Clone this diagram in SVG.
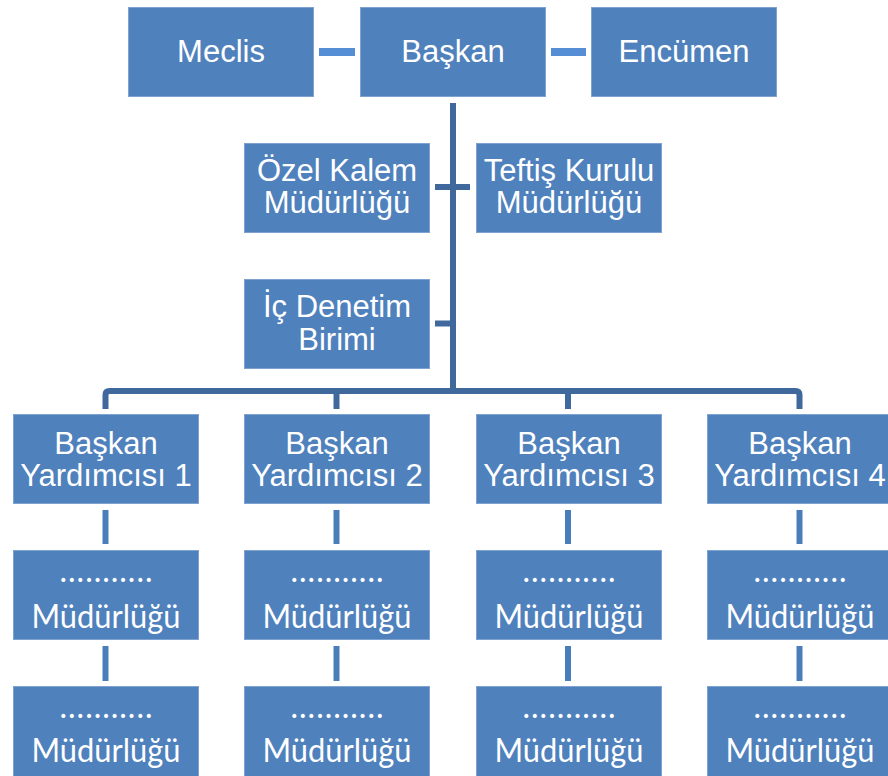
<svg xmlns="http://www.w3.org/2000/svg" width="888" height="776" viewBox="0 0 888 776">
<style>
.box{fill:#4F81BD;stroke:#7EA3D0;stroke-width:1}
.t{font-family:"Liberation Sans",Arial,sans-serif;font-size:31px;fill:#FFFFFF;text-anchor:middle}
.tb{font-family:"Liberation Sans",Arial,sans-serif;font-size:31px;fill:#FFFFFF;text-anchor:middle}
.c{font-family:Lato,"Open Sans",sans-serif;font-size:32px;fill:#FFFFFF;text-anchor:middle}
.peer{stroke:#558ED5;stroke-width:8;fill:none}
.trunk{stroke:#3F699D;stroke-width:6;fill:none}
.sub{stroke:#4A7EBB;stroke-width:6;fill:none}
</style>
<rect width="888" height="776" fill="#FFFFFF"/>
<g id="connectors">
<line class="peer" x1="319" y1="52" x2="355" y2="52"/>
<line class="peer" x1="551" y1="52" x2="586" y2="52"/>
<line class="trunk" x1="453" y1="103" x2="453" y2="391"/>
<line class="trunk" x1="435" y1="187" x2="470" y2="187"/>
<line class="trunk" x1="435" y1="323.5" x2="453" y2="323.5"/>
<path class="trunk" d="M105.5 409 V395 Q105.5 391 109.5 391 H795.5 Q799.5 391 799.5 395 V409"/>
<line class="trunk" x1="336.5" y1="391" x2="336.5" y2="409"/>
<line class="trunk" x1="568" y1="391" x2="568" y2="409"/>
<line class="sub" x1="105.5" y1="510" x2="105.5" y2="544"/>
<line class="sub" x1="105.5" y1="646" x2="105.5" y2="681"/>
<line class="sub" x1="336.5" y1="510" x2="336.5" y2="544"/>
<line class="sub" x1="336.5" y1="646" x2="336.5" y2="681"/>
<line class="sub" x1="568" y1="510" x2="568" y2="544"/>
<line class="sub" x1="568" y1="646" x2="568" y2="681"/>
<line class="sub" x1="799.5" y1="510" x2="799.5" y2="544"/>
<line class="sub" x1="799.5" y1="646" x2="799.5" y2="681"/>
</g>
<g id="meclis"><rect class="box" x="128.5" y="7.5" width="185" height="89"/><text class="tb" x="221" y="62">Meclis</text></g>
<g id="baskan"><rect class="box" x="360.5" y="7.5" width="185" height="89"/><text class="tb" x="453" y="62">Başkan</text></g>
<g id="encumen"><rect class="box" x="591.5" y="7.5" width="185" height="89"/><text class="tb" x="684" y="62">Encümen</text></g>
<g id="ozel-kalem"><rect class="box" x="244.5" y="143.5" width="185" height="89"/><text class="t" x="337" y="181">Özel Kalem</text><text class="t" x="337" y="213">Müdürlüğü</text></g>
<g id="teftis"><rect class="box" x="476.5" y="143.5" width="185" height="89"/><text class="t" x="569" y="181">Teftiş Kurulu</text><text class="t" x="569" y="213">Müdürlüğü</text></g>
<g id="ic-denetim"><rect class="box" x="244.5" y="279.5" width="185" height="89"/><text class="t" x="337" y="317">İç Denetim</text><text class="t" x="337" y="350">Birimi</text></g>
<g id="by1"><rect class="box" x="13.5" y="414.5" width="185" height="89"/><text class="t" x="106" y="454">Başkan</text><text class="t" x="106" y="486">Yardımcısı 1</text></g>
<g id="by2"><rect class="box" x="244.5" y="414.5" width="185" height="89"/><text class="t" x="337" y="454">Başkan</text><text class="t" x="337" y="486">Yardımcısı 2</text></g>
<g id="by3"><rect class="box" x="476.5" y="414.5" width="185" height="89"/><text class="t" x="569" y="454">Başkan</text><text class="t" x="569" y="486">Yardımcısı 3</text></g>
<g id="by4"><rect class="box" x="707.5" y="414.5" width="185" height="89"/><text class="t" x="800" y="454">Başkan</text><text class="t" x="800" y="486">Yardımcısı 4</text></g>
<g id="m1a"><rect class="box" x="13.5" y="550.5" width="185" height="89"/><text class="c" x="106" y="582" textLength="93" lengthAdjust="spacing">...........</text><text class="c" x="106" y="628" textLength="149" lengthAdjust="spacingAndGlyphs">Müdürlüğü</text></g>
<g id="m2a"><rect class="box" x="244.5" y="550.5" width="185" height="89"/><text class="c" x="337" y="582" textLength="93" lengthAdjust="spacing">...........</text><text class="c" x="337" y="628" textLength="149" lengthAdjust="spacingAndGlyphs">Müdürlüğü</text></g>
<g id="m3a"><rect class="box" x="476.5" y="550.5" width="185" height="89"/><text class="c" x="569" y="582" textLength="93" lengthAdjust="spacing">...........</text><text class="c" x="569" y="628" textLength="149" lengthAdjust="spacingAndGlyphs">Müdürlüğü</text></g>
<g id="m4a"><rect class="box" x="707.5" y="550.5" width="185" height="89"/><text class="c" x="800" y="582" textLength="93" lengthAdjust="spacing">...........</text><text class="c" x="800" y="628" textLength="149" lengthAdjust="spacingAndGlyphs">Müdürlüğü</text></g>
<g id="m1b"><rect class="box" x="13.5" y="686.5" width="185" height="95"/><text class="c" x="106" y="718" textLength="93" lengthAdjust="spacing">...........</text><text class="c" x="106" y="762" textLength="149" lengthAdjust="spacingAndGlyphs">Müdürlüğü</text></g>
<g id="m2b"><rect class="box" x="244.5" y="686.5" width="185" height="95"/><text class="c" x="337" y="718" textLength="93" lengthAdjust="spacing">...........</text><text class="c" x="337" y="762" textLength="149" lengthAdjust="spacingAndGlyphs">Müdürlüğü</text></g>
<g id="m3b"><rect class="box" x="476.5" y="686.5" width="185" height="95"/><text class="c" x="569" y="718" textLength="93" lengthAdjust="spacing">...........</text><text class="c" x="569" y="762" textLength="149" lengthAdjust="spacingAndGlyphs">Müdürlüğü</text></g>
<g id="m4b"><rect class="box" x="707.5" y="686.5" width="185" height="95"/><text class="c" x="800" y="718" textLength="93" lengthAdjust="spacing">...........</text><text class="c" x="800" y="762" textLength="149" lengthAdjust="spacingAndGlyphs">Müdürlüğü</text></g>
</svg>
